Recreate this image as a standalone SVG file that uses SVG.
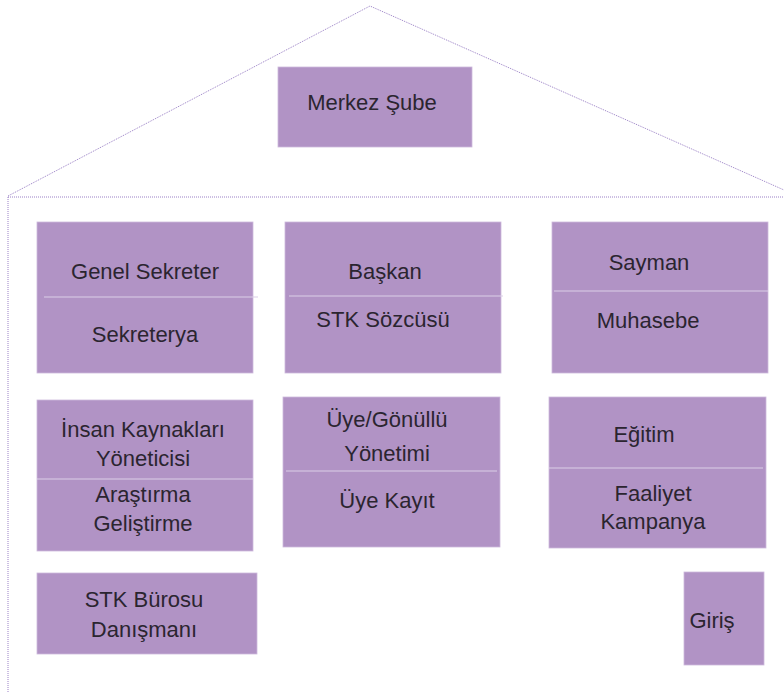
<svg xmlns="http://www.w3.org/2000/svg" width="784" height="692" viewBox="0 0 784 692">
<style>
.box{fill:#b193c5;stroke:#cdb9dc;stroke-width:0.8}
.div{stroke:#dccfe7;stroke-width:1.2}
.roof{fill:none;stroke:#9a80c6;stroke-width:1;stroke-dasharray:1 1}
text{font-family:"Liberation Sans","DejaVu Sans",sans-serif;font-size:22px;fill:#2b2530;text-anchor:middle}
</style>
<rect width="784" height="692" fill="#ffffff"/>
<g id="house">
<polyline class="roof" points="8,196 370,6 784,190"/>
<line class="roof" x1="8" y1="197" x2="784" y2="197"/>
<line class="roof" x1="8" y1="197" x2="8" y2="692"/>
</g>
<g id="merkez">
<rect class="box" x="278" y="67" width="194" height="80"/>
<text x="372" y="110">Merkez Şube</text>
</g>
<g id="genel-sekreter">
<rect class="box" x="37" y="222" width="216" height="151"/>
<line class="div" x1="44" y1="297" x2="258" y2="297"/>
<text x="145" y="279">Genel Sekreter</text>
<text x="145" y="342">Sekreterya</text>
</g>
<g id="baskan">
<rect class="box" x="285" y="222" width="216" height="151"/>
<line class="div" x1="289" y1="296" x2="503" y2="296"/>
<text x="385" y="279">Başkan</text>
<text x="383" y="327">STK Sözcüsü</text>
</g>
<g id="sayman">
<rect class="box" x="552" y="222" width="216" height="151"/>
<line class="div" x1="554" y1="291" x2="768" y2="291"/>
<text x="649" y="270">Sayman</text>
<text x="648" y="328">Muhasebe</text>
</g>
<g id="insan-kaynaklari">
<rect class="box" x="37" y="400" width="216" height="151"/>
<line class="div" x1="37" y1="479" x2="253" y2="479"/>
<text x="143" y="437">İnsan Kaynakları</text>
<text x="143" y="466">Yöneticisi</text>
<text x="143" y="502">Araştırma</text>
<text x="143" y="531">Geliştirme</text>
</g>
<g id="uye-gonullu">
<rect class="box" x="283" y="397" width="217" height="150"/>
<line class="div" x1="286" y1="471" x2="497" y2="471"/>
<text x="387" y="427">Üye/Gönüllü</text>
<text x="387" y="461">Yönetimi</text>
<text x="387" y="508">Üye Kayıt</text>
</g>
<g id="egitim">
<rect class="box" x="549" y="397" width="217" height="151"/>
<line class="div" x1="549" y1="468" x2="763" y2="468"/>
<text x="644" y="442">Eğitim</text>
<text x="653" y="501">Faaliyet</text>
<text x="653" y="529">Kampanya</text>
</g>
<g id="stk-burosu">
<rect class="box" x="37" y="573" width="220" height="81"/>
<text x="144" y="607">STK Bürosu</text>
<text x="144" y="637">Danışmanı</text>
</g>
<g id="giris">
<rect class="box" x="684" y="572" width="80" height="93"/>
<text x="712" y="628">Giriş</text>
</g>
<g id="connectors"></g>
</svg>
